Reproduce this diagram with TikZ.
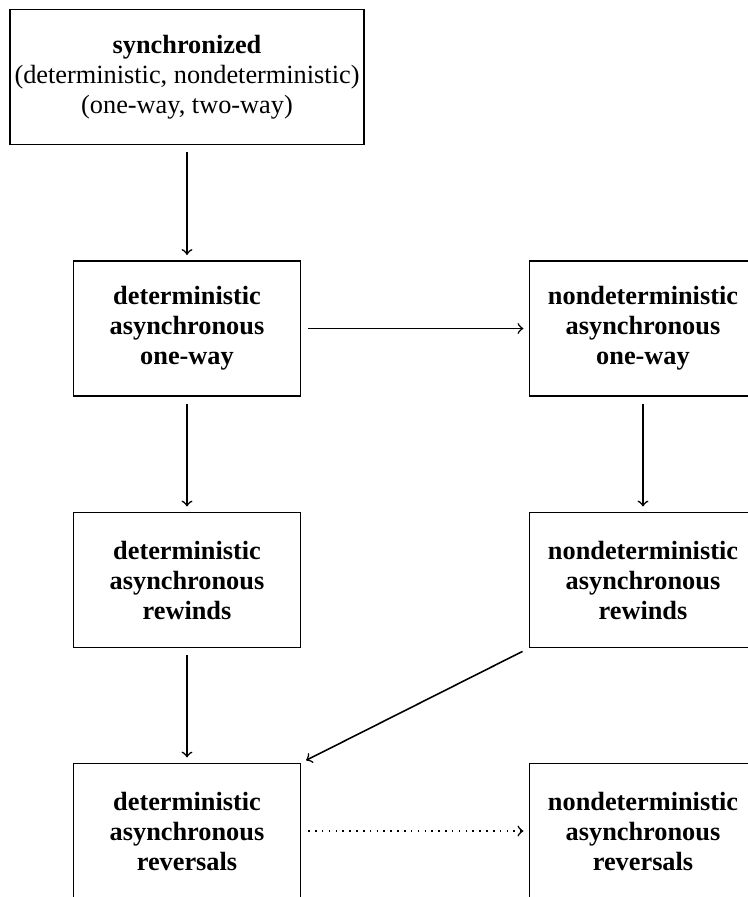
\documentclass[tikz,border=0pt]{standalone}
\usepackage{fontspec}
\setmainfont{Liberation Serif}
\usepackage{tikz}
\usetikzlibrary{positioning}
\tikzstyle{every node}=[draw=black,semithick,align=center,font=\fontsize{10}{11.4}\selectfont]
\tikzstyle{mode}=[minimum width=86.3pt,minimum height=51.3pt,inner sep=1pt,font=\fontsize{10}{11.4}\selectfont\bfseries]
\tikzstyle{origin}=[minimum width=134.5pt,minimum height=51.3pt,inner sep=1pt]
\tikzstyle{implies}=[->,semithick,shorten <=2.6pt,shorten >=2pt]

\begin{document}
\begin{tikzpicture}[x=0.38pt,y=-0.38pt]
  \useasboundingbox (0,0) rectangle (748,897);
  \node [origin] (sync) at (187,77) {\textbf{synchronized}\\(deterministic, nondeterministic)\\(one-way, two-way)};
  % deterministic column
  \node [mode] (detone) at (187,328.5) {deterministic\\asynchronous\\one-way};
  \node [mode] (detrew) at (187,580) {deterministic\\asynchronous\\rewinds};
  \node [mode] (detrev) at (187,831) {deterministic\\asynchronous\\reversals};
  % nondeterministic column
  \node [mode] (ndetone) at (643,328.5) {nondeterministic\\asynchronous\\one-way};
  \node [mode] (ndetrew) at (643,580) {nondeterministic\\asynchronous\\rewinds};
  \node [mode] (ndetrev) at (643,831) {nondeterministic\\asynchronous\\reversals};

  \draw [implies] (sync) -- (detone);
  \draw [implies] (detone) -- (ndetone);
  \draw [implies] (detone) -- (detrew);
  \draw [implies] (ndetone) -- (ndetrew);
  \draw [implies] (detrew) -- (detrev);
  \draw [implies] (ndetrew.south west) -- (detrev.north east);
  \draw [implies,dotted] (detrev) -- (ndetrev);
\end{tikzpicture}
\end{document}
